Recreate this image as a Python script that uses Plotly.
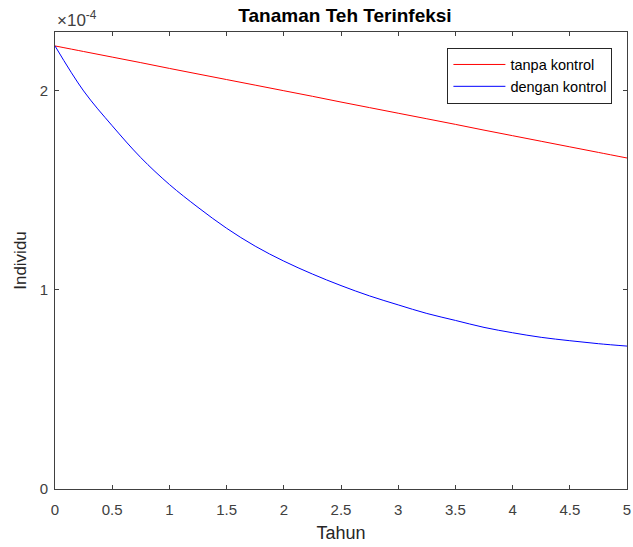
import plotly.graph_objects as go

# Time (years)
tahun = [0, 0.25, 0.5, 0.75, 1.0, 1.25, 1.5, 1.75, 2.0, 2.25, 2.5, 2.75,
         3.0, 3.25, 3.5, 3.75, 4.0, 4.25, 4.5, 4.75, 5.0]
# Infected tea plants, in units of 1e-4
tanpa_kontrol = [2.226, 2.198, 2.170, 2.142, 2.113, 2.085, 2.057, 2.029, 2.001,
                 1.973, 1.944, 1.916, 1.888, 1.860, 1.832, 1.803, 1.775, 1.747,
                 1.719, 1.691, 1.663]
dengan_kontrol = [2.226, 2.000, 1.825, 1.665, 1.530, 1.415, 1.310, 1.220, 1.145,
                  1.080, 1.022, 0.970, 0.925, 0.882, 0.847, 0.812, 0.785, 0.762,
                  0.745, 0.730, 0.718]

xticks = [0, 0.5, 1, 1.5, 2, 2.5, 3, 3.5, 4, 4.5, 5]
yticks = [0, 1, 2]

axcol = "#404040"
font = "Liberation Sans, Arial, sans-serif"

fig = go.Figure()
fig.add_trace(go.Scatter(x=tahun, y=tanpa_kontrol, mode="lines", name="tanpa kontrol",
                         line=dict(color="#ff0000", width=1, shape="spline")))
fig.add_trace(go.Scatter(x=tahun, y=dengan_kontrol, mode="lines", name="dengan kontrol",
                         line=dict(color="#0000ff", width=1, shape="spline")))

fig.update_layout(
    width=633, height=547,
    margin=dict(l=55, r=2, t=32, b=58),
    paper_bgcolor="white", plot_bgcolor="white",
    font=dict(family=font, color="#262626", size=15),
    title=dict(text="<b>Tanaman Teh Terinfeksi</b>", x=0.545, xanchor="center",
               y=1 - 15.5/547, yanchor="middle", font=dict(size=19, color="#000000")),
    showlegend=True,
    legend=dict(x=0.9745, y=0.966, xanchor="right", yanchor="top",
                bordercolor="#262626", borderwidth=1, bgcolor="white",
                font=dict(size=14.5, color="#000000"), itemwidth=52,
                tracegroupgap=0, traceorder="normal"),
    xaxis=dict(range=[0, 5], tickvals=xticks, ticks="inside", ticklen=4,
               tickcolor=axcol, showline=True, linecolor=axcol, linewidth=1,
               mirror="ticks", showgrid=False, zeroline=False,
               ticklabelstandoff=7, ticklabeloverflow="allow",
               title=dict(text="Tahun", font=dict(size=18), standoff=9),
               tickfont=dict(size=15, color="#404040")),
    yaxis=dict(range=[0, 2.296], tickvals=yticks, ticks="inside", ticklen=4,
               tickcolor=axcol, showline=True, linecolor=axcol, linewidth=1,
               mirror="ticks", showgrid=False, zeroline=False,
               ticklabelstandoff=3,
               title=dict(text="Individu", font=dict(size=17), standoff=8),
               tickfont=dict(size=15, color="#404040")),
)

fig.add_annotation(text="×10<sup>-4</sup>", xref="paper", yref="paper",
                   x=0.0, y=1.0, xanchor="left", yanchor="bottom", yshift=0,
                   showarrow=False, font=dict(size=17, color="#404040"))

fig.write_html("out.html")
